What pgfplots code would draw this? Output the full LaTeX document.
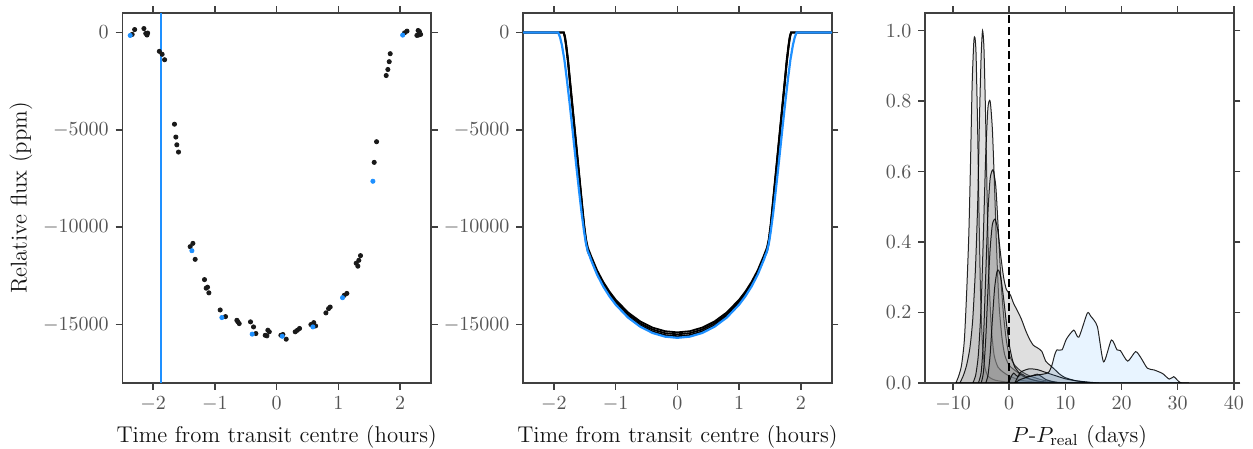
\documentclass[border=0pt]{standalone}
\usepackage{pgfplots}
\usepackage{pgfplotstable}
\pgfplotsset{compat=1.18}
\definecolor{dblue}{RGB}{30,144,255}
\definecolor{labcol}{HTML}{141414}
\definecolor{ticklab}{HTML}{555555}
\definecolor{axisgray}{HTML}{404040}
\definecolor{slate}{HTML}{708090}

% ---------- Panel 1 data ----------
\pgfplotstableread{
x y
-2.30 150
-2.34 -100
-2.15 200
-2.12 -50
-2.10 -130
-2.09 -30
-1.90 -970
-1.855 -1120
-1.815 -1400
-1.655 -4710
-1.633 -5370
-1.617 -5770
-1.59 -6140
-1.401 -11000
-1.357 -10830
-1.32 -11650
-1.169 -12690
-1.142 -13130
-1.12 -13080
-1.098 -13370
-0.915 -14250
-0.829 -14590
-0.645 -14780
-0.63 -14850
-0.607 -14950
-0.424 -14860
-0.375 -15120
-0.337 -15460
-0.186 -15550
-0.159 -15580
-0.143 -15290
-0.12 -15370
0.068 -15550
0.10 -15510
0.154 -15750
0.30 -15370
0.335 -15290
0.37 -15200
0.554 -15000
0.60 -14900
0.63 -15070
0.797 -14400
0.84 -14180
0.866 -14100
1.093 -13500
1.136 -13400
1.287 -11850
1.314 -12000
1.33 -11700
1.357 -11460
1.579 -6670
1.617 -5610
1.773 -2210
1.80 -1900
1.822 -1500
1.838 -1090
2.07 -20
2.11 70
2.27 -150
2.29 100
2.31 50
2.33 -100
2.30 -130
}\datablack
\pgfplotstableread{
x y
-2.372 -153
-1.373 -11207
-0.888 -14640
-0.397 -15490
0.089 -15600
0.586 -15120
1.066 -13620
1.558 -7640
2.04 -135
}\datablue

% ---------- Panel 2 models ----------
\pgfplotstableread{
x b1 b2 b3
-2.50 0 0 0
-1.84 0 0 0
-1.82 -200 -250 -320
-1.80 -620 -700 -780
-1.77 -1400 -1500 -1600
-1.74 -2400 -2500 -2600
-1.70 -3700 -3800 -3900
-1.66 -5000 -5100 -5200
-1.62 -6300 -6400 -6500
-1.58 -7600 -7700 -7800
-1.54 -8900 -9000 -9100
-1.51 -9850 -9950 -10050
-1.48 -10600 -10700 -10800
-1.45 -11050 -11150 -11250
-1.42 -11290 -11380 -11470
-1.40 -11459 -11534 -11609
-1.30 -12214 -12294 -12374
-1.20 -12813 -12897 -12981
-1.10 -13308 -13395 -13482
-1.00 -13723 -13813 -13903
-0.80 -14376 -14470 -14564
-0.60 -14842 -14939 -15036
-0.40 -15157 -15256 -15355
-0.20 -15340 -15440 -15540
0.00 -15400 -15500 -15600
0.20 -15340 -15440 -15540
0.40 -15157 -15256 -15355
0.60 -14842 -14939 -15036
0.80 -14376 -14470 -14564
1.00 -13723 -13813 -13903
1.10 -13308 -13395 -13482
1.20 -12813 -12897 -12981
1.30 -12214 -12294 -12374
1.40 -11459 -11534 -11609
1.42 -11290 -11380 -11470
1.45 -11050 -11150 -11250
1.48 -10600 -10700 -10800
1.51 -9850 -9950 -10050
1.54 -8900 -9000 -9100
1.58 -7600 -7700 -7800
1.62 -6300 -6400 -6500
1.66 -5000 -5100 -5200
1.70 -3700 -3800 -3900
1.74 -2400 -2500 -2600
1.77 -1400 -1500 -1600
1.80 -620 -700 -780
1.82 -200 -250 -320
1.84 0 0 0
2.50 0 0 0
}\modelblack
\pgfplotstableread{
x y
-2.50 0
-1.93 0
-1.90 -250
-1.87 -650
-1.83 -1400
-1.79 -2400
-1.75 -3500
-1.71 -4650
-1.67 -5850
-1.63 -7050
-1.59 -8200
-1.55 -9300
-1.51 -10250
-1.48 -10850
-1.45 -11250
-1.42 -11480
-1.40 -11668
-1.30 -12437
-1.20 -13047
-1.10 -13550
-1.00 -13974
-0.80 -14638
-0.60 -15112
-0.40 -15433
-0.20 -15619
0.00 -15680
0.20 -15619
0.40 -15433
0.60 -15112
0.80 -14638
1.00 -13974
1.10 -13550
1.20 -13047
1.30 -12437
1.40 -11668
1.42 -11480
1.45 -11250
1.48 -10850
1.51 -10250
1.55 -9300
1.59 -8200
1.63 -7050
1.67 -5850
1.71 -4650
1.75 -3500
1.79 -2400
1.83 -1400
1.87 -650
1.90 -250
1.93 0
2.50 0
}\modelblue

% ---------- Panel 3 densities ----------
\pgfplotstableread{
x y
-9.5 0
-9.0 0.02
-8.5 0.05
-8.0 0.12
-7.6 0.25
-7.2 0.42
-6.9 0.62
-6.6 0.85
-6.3 0.97
-6.1 0.98
-5.9 0.93
-5.6 0.70
-5.35 0.45
-5.1 0.25
-4.8 0.12
-4.4 0.05
-3.8 0.02
-2.5 0.008
0 0.002
3 0
}\kdeA
\pgfplotstableread{
x y
-8.8 0
-8.2 0.02
-7.6 0.05
-7.0 0.10
-6.5 0.18
-6.0 0.33
-5.6 0.52
-5.3 0.75
-5.0 0.93
-4.75 1.0
-4.5 0.95
-4.2 0.75
-3.9 0.50
-3.6 0.30
-3.2 0.16
-2.7 0.08
-2.0 0.045
-1.0 0.03
0 0.02
2 0.008
5 0.002
8 0
}\kdeB
\pgfplotstableread{
x y
-6.5 0
-6.0 0.02
-5.5 0.08
-5.0 0.22
-4.6 0.42
-4.2 0.64
-3.8 0.78
-3.4 0.80
-3.0 0.72
-2.6 0.55
-2.2 0.36
-1.8 0.22
-1.3 0.13
-0.8 0.08
0 0.05
1.5 0.03
3 0.015
5 0.005
8 0
}\kdeC
\pgfplotstableread{
x y
-5.5 0
-5.0 0.03
-4.6 0.12
-4.2 0.30
-3.8 0.48
-3.4 0.58
-2.9 0.605
-2.4 0.56
-2.0 0.45
-1.5 0.30
-1.0 0.19
-0.5 0.12
0 0.08
1 0.05
2 0.035
3 0.025
4 0.018
6 0.008
8 0.003
10 0
}\kdeD
\pgfplotstableread{
x y
-5.0 0
-4.6 0.03
-4.2 0.12
-3.8 0.26
-3.4 0.38
-3.0 0.45
-2.5 0.465
-2.0 0.43
-1.5 0.36
-1.0 0.30
-0.5 0.265
0.2 0.25
0.8 0.225
1.4 0.207
2.2 0.18
2.9 0.15
3.6 0.125
4.3 0.107
5.0 0.10
5.8 0.09
6.5 0.062
7.3 0.05
8.0 0.04
9.0 0.025
10 0.015
12 0.006
15 0
}\kdeE
\pgfplotstableread{
x y
-4.2 0
-3.8 0.02
-3.4 0.08
-3.0 0.18
-2.6 0.27
-2.2 0.315
-1.9 0.32
-1.5 0.30
-1.0 0.24
-0.5 0.17
0 0.11
0.5 0.07
1 0.045
2 0.025
3 0.015
5 0.006
8 0
}\kdeF
\pgfplotstableread{
x y
-0.5 0
0 0.005
0.4 0.02
0.8 0.028
1.2 0.022
1.6 0.018
2.2 0.026
2.8 0.02
3.5 0.018
4.3 0.022
5 0.025
5.8 0.018
6.5 0.01
7.5 0.005
9 0
}\kdeG
\pgfplotstableread{
x y
1 0
2 0.03
3.5 0.04
5 0.038
6.5 0.03
8 0.022
10 0.012
12 0.006
14.5 0.002
16 0
}\kdeH
\pgfplotstableread{
x y
1 0
2 0.01
4 0.02
6 0.025
7.0 0.03
7.6 0.05
8.1 0.08
8.5 0.094
9.4 0.094
10.2 0.125
11.5 0.15
12.4 0.13
13.9 0.198
14.5 0.19
15.7 0.16
16.8 0.06
18.2 0.122
19.2 0.094
19.8 0.092
21.1 0.062
22.5 0.089
23.4 0.073
24.6 0.042
25.8 0.037
27.3 0.027
28.5 0.011
29.3 0.018
29.9 0.009
30.5 0.001
32 0
}\kdeI

\pgfplotsset{
  panel/.style={
    scale only axis, width=154.4pt, height=185pt,
    anchor=south west,
    tick align=outside, major tick length=3.3pt,
    axis line style={draw=axisgray, line width=0.8pt},
    every tick/.style={draw=axisgray, line width=0.8pt},
    tick label style={text=ticklab, font=\fontsize{10}{12}\selectfont},
    label style={text=labcol, font=\fontsize{11.4}{13.5}\selectfont},
    /pgf/number format/1000 sep={},
    scaled ticks=false,
    minor tick num=0,
  },
  kde/.style={smooth, tension=0.4, fill=gray, fill opacity=0.25, draw=black, draw opacity=0.85, line width=0.5pt},
}

\begin{document}
\begin{tikzpicture}
\useasboundingbox (0,0) rectangle (626.5pt,224.5pt);

% Panel 1
\begin{axis}[panel, at={(61.15pt,33pt)},
  xmin=-2.5, xmax=2.5, ymin=-18000, ymax=1000,
  xtick={-2,-1,0,1,2}, ytick={-15000,-10000,-5000,0},
  xlabel={Time from transit centre (hours)},
  ylabel={Relative flux (ppm)},
  ylabel style={yshift=-1.5pt}]
\addplot[dblue, line width=1.1pt] coordinates {(-1.87,-18000) (-1.87,1000)};
\addplot[only marks, mark=*, mark size=1.05pt, color=black!90] table[x=x,y=y] {\datablack};
\addplot[only marks, mark=*, mark size=1.05pt, color=dblue] table[x=x,y=y] {\datablue};
\end{axis}

% Panel 2
\begin{axis}[panel, at={(261.5pt,33pt)},
  xmin=-2.5, xmax=2.5, ymin=-18000, ymax=1000,
  xtick={-2,-1,0,1,2}, ytick={-15000,-10000,-5000,0},
  xlabel={Time from transit centre (hours)}]
\addplot[black, line width=0.9pt] table[x=x,y=b1] {\modelblack};
\addplot[black, line width=0.9pt] table[x=x,y=b2] {\modelblack};
\addplot[black, line width=0.9pt] table[x=x,y=b3] {\modelblack};
\addplot[dblue, line width=1.1pt] table[x=x,y=y] {\modelblue};
\end{axis}

% Panel 3
\begin{axis}[panel, at={(462.5pt,33pt)},
  xmin=-15, xmax=40, ymin=0, ymax=1.05,
  xtick={-10,0,10,20,30,40}, ytick={0,0.2,0.4,0.6,0.8,1.0},
  yticklabel style={/pgf/number format/fixed, /pgf/number format/fixed zerofill, /pgf/number format/precision=1},
  xlabel={$P$-$P_{\mathrm{real}}$ (days)}]
\addplot[kde] table[x=x,y=y] {\kdeA} \closedcycle;
\addplot[kde] table[x=x,y=y] {\kdeB} \closedcycle;
\addplot[kde] table[x=x,y=y] {\kdeC} \closedcycle;
\addplot[kde] table[x=x,y=y] {\kdeD} \closedcycle;
\addplot[kde] table[x=x,y=y] {\kdeE} \closedcycle;
\addplot[kde] table[x=x,y=y] {\kdeF} \closedcycle;
\addplot[kde, fill=slate, fill opacity=0.35] table[x=x,y=y] {\kdeG} \closedcycle;
\addplot[kde, fill=slate, fill opacity=0.2] table[x=x,y=y] {\kdeH} \closedcycle;
\addplot[kde, fill=dblue, fill opacity=0.1] table[x=x,y=y] {\kdeI} \closedcycle;
\addplot[black, line width=1.2pt, dash pattern=on 4pt off 2pt] coordinates {(0,0) (0,1.05)};
\end{axis}
\end{tikzpicture}
\end{document}
